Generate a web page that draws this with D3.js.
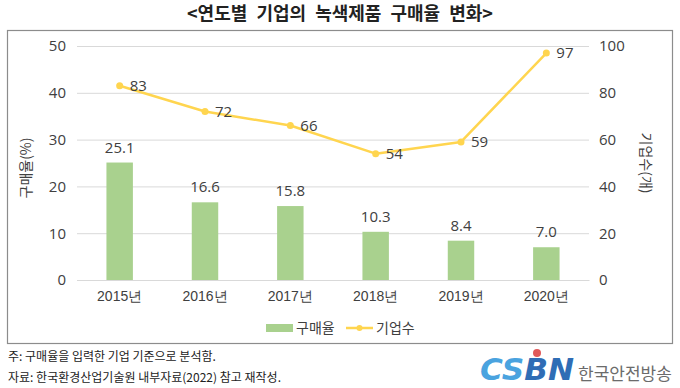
<!DOCTYPE html>
<html>
<head>
<meta charset="utf-8">
<script src="https://cdn.jsdelivr.net/npm/d3@7"></script>
<style>
  body { margin: 0; background: #fff; }
  svg { font-family: "Noto Sans CJK KR", "Noto Sans", sans-serif; }
</style>
</head>
<body>
<svg id="chart" width="680" height="388"></svg>
<script>
const years = ["2015년", "2016년", "2017년", "2018년", "2019년", "2020년"];
const rates = [25.1, 16.6, 15.8, 10.3, 8.4, 7.0];
const counts = [83, 72, 66, 54, 59, 97];
const leftTicks = [0, 10, 20, 30, 40, 50];
const rightTicks = [0, 20, 40, 60, 80, 100];

const svg = d3.select("#chart");
const margin = { top: 46, left: 77, right: 91, bottom: 108 };
const W = 680, H = 388;
const width = W - margin.left - margin.right;
const height = H - margin.top - margin.bottom;

// title
svg.append("text")
  .attr("x", 340).attr("y", 20)
  .attr("text-anchor", "middle")
  .style("font-size", "18px").style("font-weight", "bold")
  .style("word-spacing", "5px")
  .attr("fill", "#222")
  .text("<연도별 기업의 녹색제품 구매율 변화>");

// frame
svg.append("rect")
  .attr("x", 7.5).attr("y", 30.5)
  .attr("width", 665).attr("height", 313)
  .attr("fill", "none").attr("stroke", "#8c8c8c").attr("stroke-width", 1.2);

const g = svg.append("g").attr("transform", `translate(${margin.left},${margin.top})`);

const x = d3.scaleBand().domain(years).range([0, width]).paddingInner(0.69).paddingOuter(0.345);
const yL = d3.scaleLinear().domain([0, 50]).range([height, 0]);
const yR = d3.scaleLinear().domain([0, 100]).range([height, 0]);

// gridlines
g.append("g")
  .call(d3.axisLeft(yL).tickValues(leftTicks).tickSize(-width).tickFormat(""))
  .call(a => a.select(".domain").remove())
  .call(a => a.selectAll(".tick line").attr("stroke", "#d9d9d9"));

// left axis
g.append("g")
  .call(d3.axisLeft(yL).tickValues(leftTicks).tickSize(0).tickPadding(11))
  .call(a => a.select(".domain").remove())
  .call(a => a.selectAll("text").attr("fill", "#404040").style("font-size", "15px").style("font-family", "'Open Sans', sans-serif"));

// right axis
g.append("g")
  .attr("transform", `translate(${width},0)`)
  .call(d3.axisRight(yR).tickValues(rightTicks).tickSize(0).tickPadding(10))
  .call(a => a.select(".domain").remove())
  .call(a => a.selectAll("text").attr("fill", "#404040").style("font-size", "15px").style("font-family", "'Open Sans', sans-serif"));

// x axis
g.append("g")
  .attr("transform", `translate(0,${height})`)
  .call(d3.axisBottom(x).tickSize(0).tickPadding(11))
  .call(a => a.select(".domain").attr("stroke", "#d9d9d9"))
  .call(a => a.selectAll("text").attr("fill", "#404040").style("font-size", "14px"));

// axis titles
svg.append("text")
  .attr("transform", "translate(31,168) rotate(-90)")
  .attr("text-anchor", "middle")
  .style("font-size", "14px").attr("fill", "#404040")
  .text("구매율(%)");
svg.append("text")
  .attr("transform", "translate(641,163) rotate(90)")
  .attr("text-anchor", "middle")
  .style("font-size", "14px").attr("fill", "#404040")
  .text("기업수(개)");

// bars
g.selectAll(".bar").data(rates).join("rect")
  .attr("class", "bar")
  .attr("x", (d, i) => x(years[i]))
  .attr("y", d => yL(d))
  .attr("width", x.bandwidth())
  .attr("height", d => height - yL(d))
  .attr("fill", "#a9d18e");

g.selectAll(".bar-label").data(rates).join("text")
  .attr("class", "bar-label")
  .attr("x", (d, i) => x(years[i]) + x.bandwidth() / 2)
  .attr("y", d => yL(d) - 10)
  .attr("text-anchor", "middle")
  .attr("fill", "#404040")
  .style("font-size", "15px").style("font-family", "'Open Sans', sans-serif")
  .text(d => d.toFixed(1));

// line
const cx = i => x(years[i]) + x.bandwidth() / 2;
const line = d3.line().x((d, i) => cx(i)).y(d => yR(d));
g.append("path")
  .datum(counts)
  .attr("d", line)
  .attr("fill", "none")
  .attr("stroke", "#ffd54f")
  .attr("stroke-width", 2.5)
  .attr("stroke-linejoin", "round");

g.selectAll(".dot").data(counts).join("circle")
  .attr("class", "dot")
  .attr("cx", (d, i) => cx(i))
  .attr("cy", d => yR(d))
  .attr("r", 3.5)
  .attr("fill", "#ffd54f");

g.selectAll(".line-label").data(counts).join("text")
  .attr("class", "line-label")
  .attr("x", (d, i) => cx(i) + 10)
  .attr("y", d => yR(d))
  .attr("dy", "0.35em")
  .attr("fill", "#404040")
  .style("font-size", "15px").style("font-family", "'Open Sans', sans-serif")
  .text(d => d);

// legend
const lg = svg.append("g").attr("transform", "translate(266,328)");
lg.append("rect").attr("x", 0).attr("y", -4).attr("width", 27).attr("height", 8).attr("fill", "#a9d18e");
lg.append("text").attr("x", 30).attr("y", 0).attr("dy", "0.35em")
  .style("font-size", "14px").attr("fill", "#404040").text("구매율");
lg.append("line").attr("x1", 80).attr("x2", 107).attr("y1", 0).attr("y2", 0)
  .attr("stroke", "#ffd54f").attr("stroke-width", 2.5);
lg.append("circle").attr("cx", 93.5).attr("cy", 0).attr("r", 3).attr("fill", "#ffd54f");
lg.append("text").attr("x", 110).attr("y", 0).attr("dy", "0.35em")
  .style("font-size", "14px").attr("fill", "#404040").text("기업수");

// notes
svg.append("text").attr("x", 8).attr("y", 361)
  .style("font-size", "12px").attr("fill", "#222")
  .text("주: 구매율을 입력한 기업 기준으로 분석함.");
svg.append("text").attr("x", 8).attr("y", 382)
  .style("font-size", "12px").attr("fill", "#222")
  .text("자료: 한국환경산업기술원 내부자료(2022) 참고 재작성.");

// logo
svg.append("text").attr("x", 480).attr("y", 380)
  .style("font-size", "30px").style("font-weight", "900").style("font-style", "italic")
  .style("font-family", "'DejaVu Sans', sans-serif")
  .attr("textLength", 94).attr("lengthAdjust", "spacingAndGlyphs")
  .selectAll("tspan").data([["C", "#4aa3df"], ["S", "#4aa3df"], ["B", "#2f6db5"], ["N", "#2f6db5"]]).join("tspan")
  .attr("fill", d => d[1]).text(d => d[0]);
svg.append("circle").attr("cx", 537).attr("cy", 353).attr("r", 4).attr("fill", "#e05a5a");
svg.append("text").attr("x", 578).attr("y", 380)
  .style("font-size", "17px").attr("fill", "#6b6b6b")
  .text("한국안전방송");
</script>
</body>
</html>
